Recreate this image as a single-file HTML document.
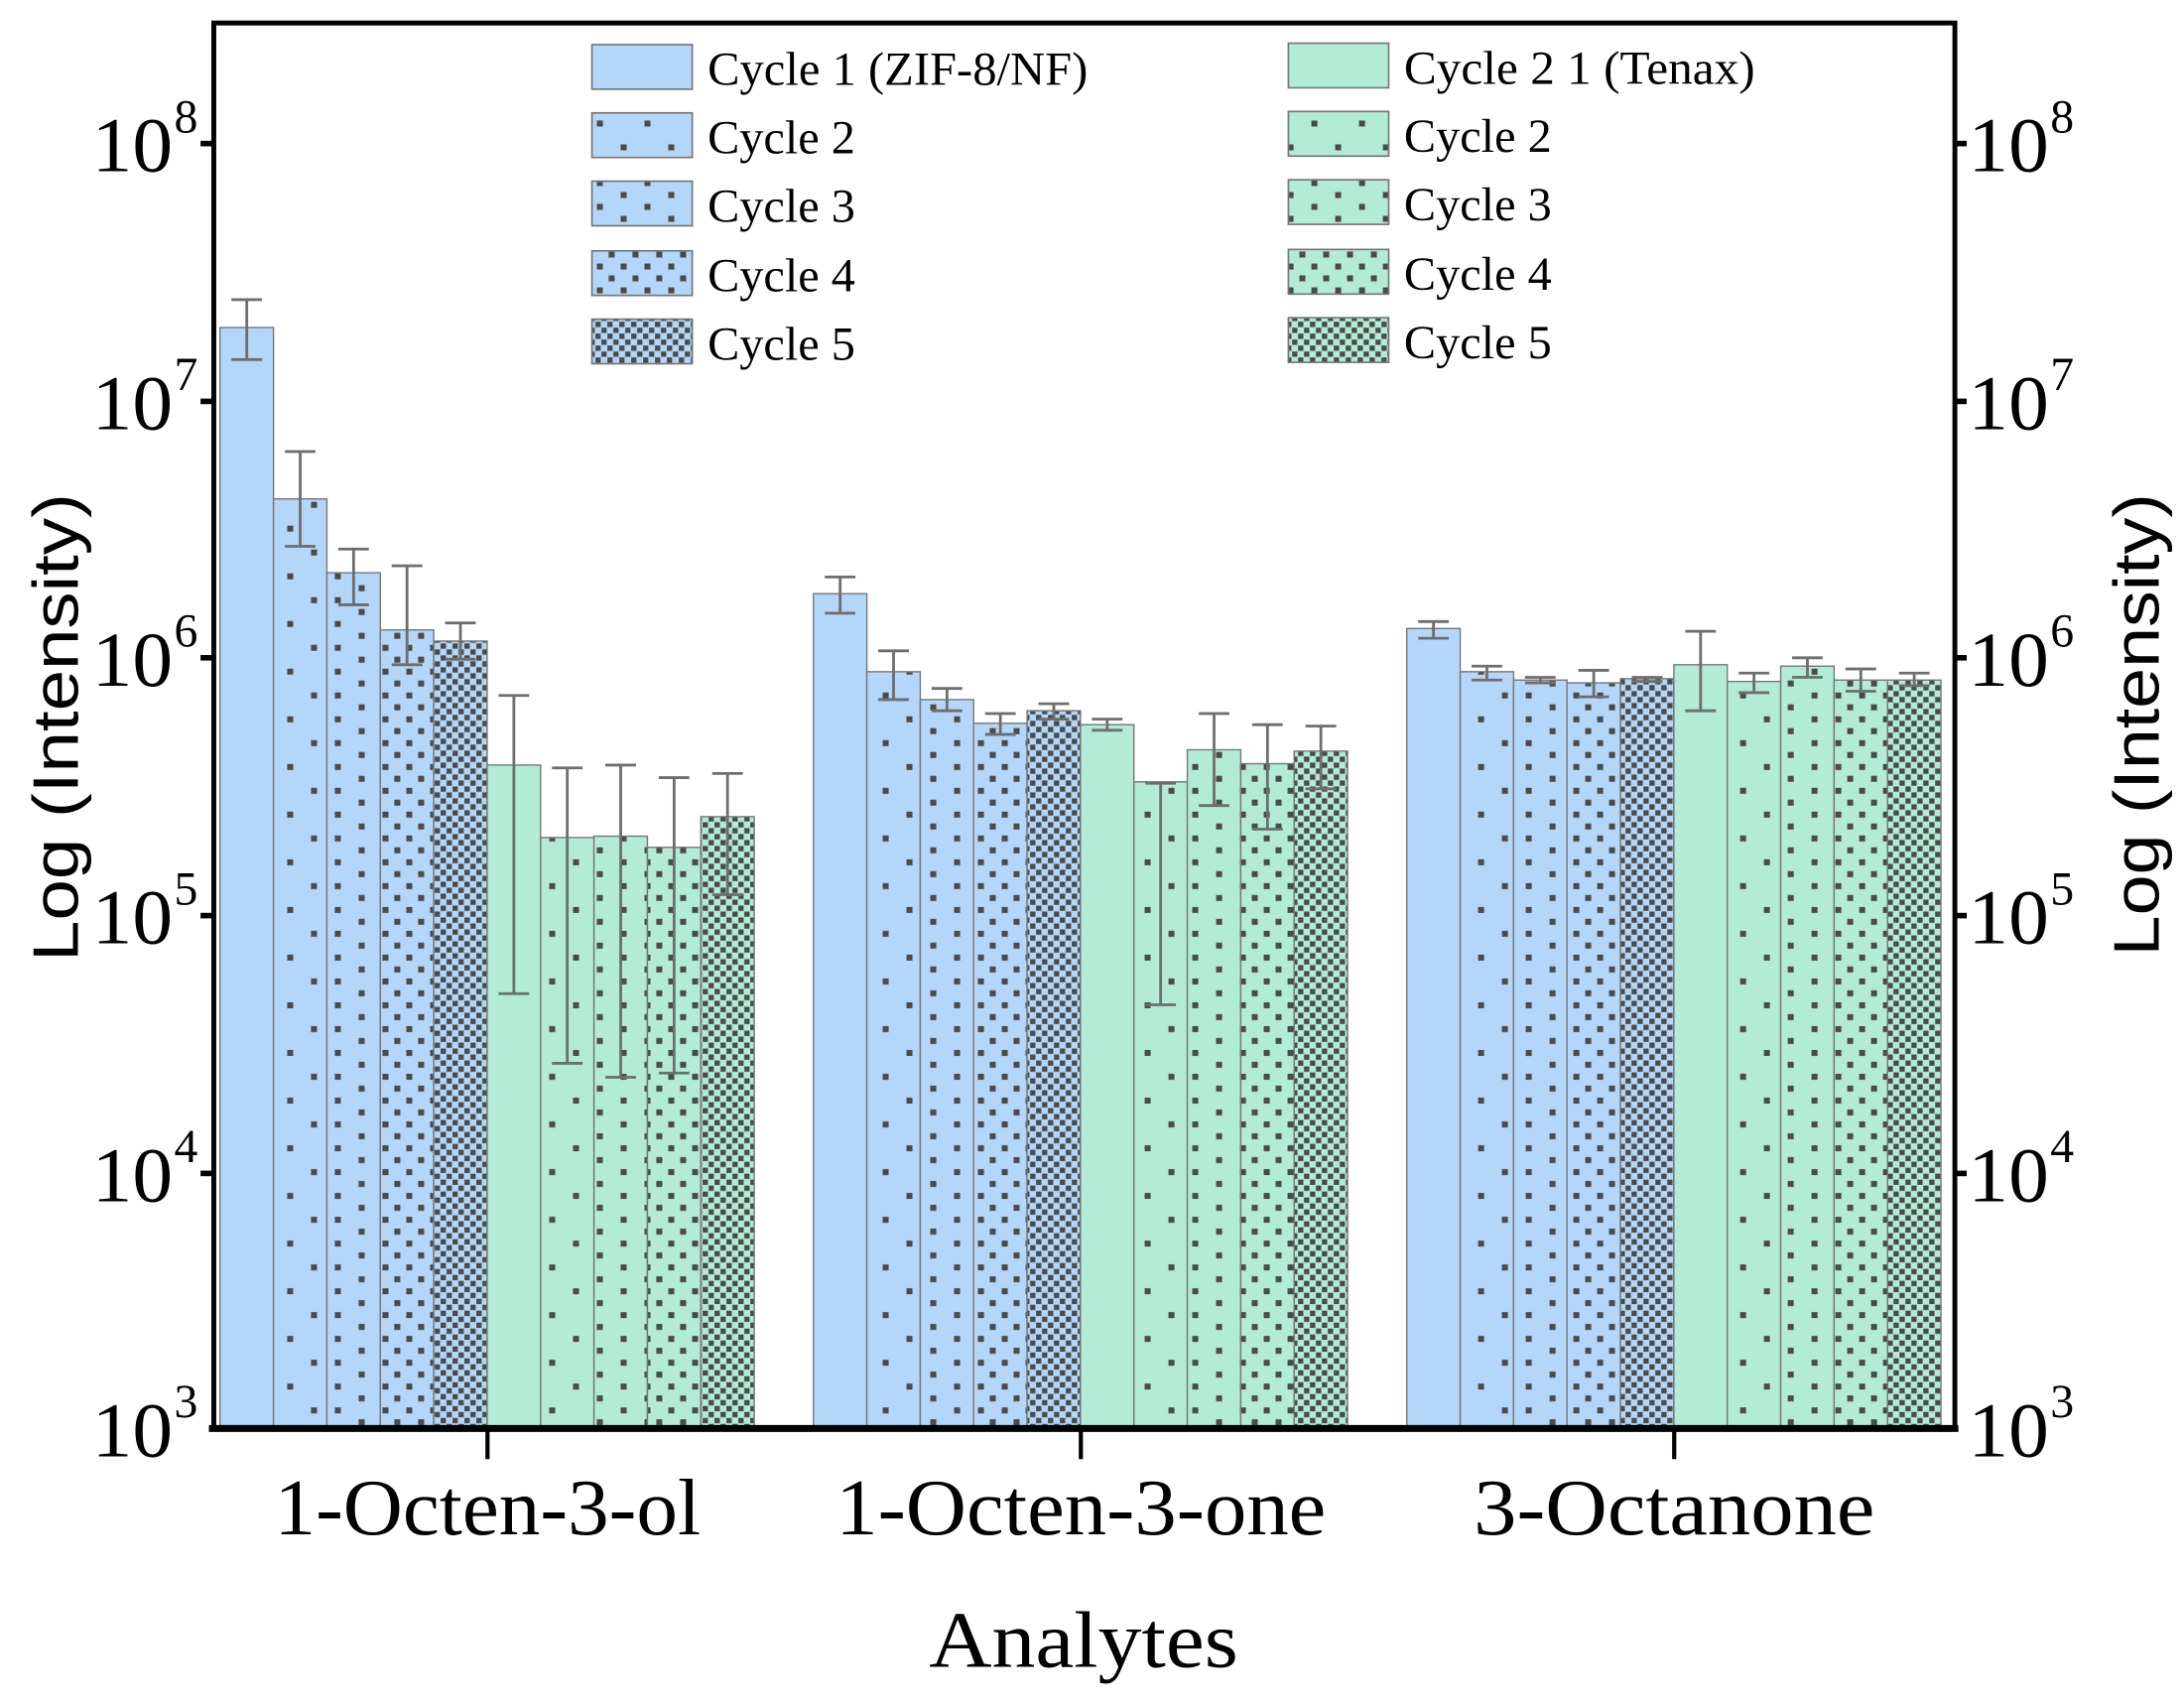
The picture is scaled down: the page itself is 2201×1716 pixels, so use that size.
<!DOCTYPE html>
<html><head><meta charset="utf-8"><style>html,body{margin:0;padding:0;background:#fff}svg{display:block}</style></head>
<body>
<svg width="2201" height="1716" viewBox="0 0 1568 1222" preserveAspectRatio="none" xmlns="http://www.w3.org/2000/svg">
<defs>
<pattern id="p2" patternUnits="userSpaceOnUse" width="34.2" height="34.2"><rect x="1" y="1" width="4.3" height="4.3" fill="#4a4a4a"/><rect x="18.1" y="18.1" width="4.3" height="4.3" fill="#4a4a4a"/></pattern>
<pattern id="p3" patternUnits="userSpaceOnUse" width="34.2" height="17.1"><rect x="1" y="1" width="4.3" height="4.3" fill="#4a4a4a"/><rect x="18.1" y="9.5" width="4.3" height="4.3" fill="#4a4a4a"/></pattern>
<pattern id="p4" patternUnits="userSpaceOnUse" width="17.1" height="17.1"><rect x="1" y="1" width="4.3" height="4.3" fill="#4a4a4a"/><rect x="9.5" y="9.5" width="4.3" height="4.3" fill="#4a4a4a"/></pattern>
<pattern id="p5" patternUnits="userSpaceOnUse" width="8.55" height="8.55"><rect x="0" y="0" width="3.8" height="3.8" fill="#4a4a4a"/><rect x="4.27" y="4.27" width="3.8" height="3.8" fill="#4a4a4a"/></pattern>
</defs>
<g id="bars" stroke-width="1"></g>
<g id="errs" stroke="#6e6e6e" stroke-width="2" fill="none"></g>
<g stroke="#000" fill="none">
<rect x="153.5" y="16.5" width="1250" height="1009" stroke-width="3.5"/>
<line x1="150" y1="1025" x2="1406" y2="1025" stroke-width="5"/>
<line x1="144" y1="103" x2="153" y2="103" stroke-width="4"/>
<line x1="144" y1="288" x2="153" y2="288" stroke-width="4"/>
<line x1="144" y1="472" x2="153" y2="472" stroke-width="4"/>
<line x1="144" y1="657" x2="153" y2="657" stroke-width="4"/>
<line x1="144" y1="842" x2="153" y2="842" stroke-width="4"/>
<line x1="1403" y1="103" x2="1412" y2="103" stroke-width="4"/>
<line x1="1403" y1="288" x2="1412" y2="288" stroke-width="4"/>
<line x1="1403" y1="472" x2="1412" y2="472" stroke-width="4"/>
<line x1="1403" y1="657" x2="1412" y2="657" stroke-width="4"/>
<line x1="1403" y1="842" x2="1412" y2="842" stroke-width="4"/>
<line x1="350" y1="1025" x2="350" y2="1047" stroke-width="3"/>
<line x1="776" y1="1025" x2="776" y2="1047" stroke-width="3"/>
<line x1="1202" y1="1025" x2="1202" y2="1047" stroke-width="3"/>
</g>
<g font-family="Liberation Serif, serif" fill="#000">
<g font-size="56">
<text x="66" y="123" textLength="58" lengthAdjust="spacingAndGlyphs">10</text>
<text x="66" y="308" textLength="58" lengthAdjust="spacingAndGlyphs">10</text>
<text x="66" y="492" textLength="58" lengthAdjust="spacingAndGlyphs">10</text>
<text x="66" y="677" textLength="58" lengthAdjust="spacingAndGlyphs">10</text>
<text x="66" y="862" textLength="58" lengthAdjust="spacingAndGlyphs">10</text>
<text x="66" y="1045" textLength="58" lengthAdjust="spacingAndGlyphs">10</text>
<text x="1413" y="123" textLength="58" lengthAdjust="spacingAndGlyphs">10</text>
<text x="1413" y="308" textLength="58" lengthAdjust="spacingAndGlyphs">10</text>
<text x="1413" y="492" textLength="58" lengthAdjust="spacingAndGlyphs">10</text>
<text x="1413" y="677" textLength="58" lengthAdjust="spacingAndGlyphs">10</text>
<text x="1413" y="862" textLength="58" lengthAdjust="spacingAndGlyphs">10</text>
<text x="1413" y="1045" textLength="58" lengthAdjust="spacingAndGlyphs">10</text>
</g>
<g font-size="34">
<text x="125" y="95" textLength="17" lengthAdjust="spacingAndGlyphs">8</text><text x="125" y="280" textLength="17" lengthAdjust="spacingAndGlyphs">7</text><text x="125" y="464" textLength="17" lengthAdjust="spacingAndGlyphs">6</text><text x="125" y="649" textLength="17" lengthAdjust="spacingAndGlyphs">5</text><text x="125" y="834" textLength="17" lengthAdjust="spacingAndGlyphs">4</text><text x="125" y="1017" textLength="17" lengthAdjust="spacingAndGlyphs">3</text>
<text x="1472" y="95" textLength="17" lengthAdjust="spacingAndGlyphs">8</text><text x="1472" y="280" textLength="17" lengthAdjust="spacingAndGlyphs">7</text><text x="1472" y="464" textLength="17" lengthAdjust="spacingAndGlyphs">6</text><text x="1472" y="649" textLength="17" lengthAdjust="spacingAndGlyphs">5</text><text x="1472" y="834" textLength="17" lengthAdjust="spacingAndGlyphs">4</text><text x="1472" y="1017" textLength="17" lengthAdjust="spacingAndGlyphs">3</text>
</g>
<g font-size="57">
<text x="197" y="1101" textLength="306" lengthAdjust="spacingAndGlyphs">1-Octen-3-ol</text>
<text x="600" y="1101" textLength="352" lengthAdjust="spacingAndGlyphs">1-Octen-3-one</text>
<text x="1058" y="1101" textLength="288" lengthAdjust="spacingAndGlyphs">3-Octanone</text>
<text x="667" y="1196" textLength="222" lengthAdjust="spacingAndGlyphs">Analytes</text>
</g>
<g font-size="34">
<text x="508" y="61" textLength="273" lengthAdjust="spacingAndGlyphs">Cycle 1 (ZIF-8/NF)</text>
<text x="508" y="110" textLength="106" lengthAdjust="spacingAndGlyphs">Cycle 2</text>
<text x="508" y="159" textLength="106" lengthAdjust="spacingAndGlyphs">Cycle 3</text>
<text x="508" y="209" textLength="106" lengthAdjust="spacingAndGlyphs">Cycle 4</text>
<text x="508" y="258" textLength="106" lengthAdjust="spacingAndGlyphs">Cycle 5</text>
<text x="1008" y="60" textLength="252" lengthAdjust="spacingAndGlyphs">Cycle 2 1 (Tenax)</text>
<text x="1008" y="109" textLength="106" lengthAdjust="spacingAndGlyphs">Cycle 2</text>
<text x="1008" y="158" textLength="106" lengthAdjust="spacingAndGlyphs">Cycle 3</text>
<text x="1008" y="208" textLength="106" lengthAdjust="spacingAndGlyphs">Cycle 4</text>
<text x="1008" y="257" textLength="106" lengthAdjust="spacingAndGlyphs">Cycle 5</text>
</g>
</g>
<g font-family="Liberation Sans, sans-serif" font-size="46" fill="#000">
<text transform="translate(56,690) rotate(-90)" textLength="336" lengthAdjust="spacingAndGlyphs">Log (Intensity)</text>
<text transform="translate(1550,686) rotate(-90)" textLength="332" lengthAdjust="spacingAndGlyphs">Log (Intensity)</text>
</g>
<g id="legend" stroke="#777" stroke-width="1.2"></g>
<script>
var NS="http://www.w3.org/2000/svg";
function el(p,t,a){var e=document.createElementNS(NS,t);for(var k in a)e.setAttribute(k,a[k]);p.appendChild(e);return e;}
var bars=document.getElementById('bars'),errs=document.getElementById('errs'),leg=document.getElementById('legend');
var blue="#b3d6f9",green="#b2ecd6",pats=[null,"p2","p3","p4","p5"];
var starts=[158,584,1010],w=38.35,bot=1025;
var tops=[[235,358,411,452,460,549,601,600,608,586],[426,482,502,519,510,520,561,538,548,539],[451,482,488,490,487,477,489,478,488,488]];
var er=[[[215,258],[324,392],[394,434],[406,477],[447,473],[499,713],[551,763],[549,773],[558,770],[555,642]],
[[414,440],[467,502],[494,510],[512,527],[505,516],[516,524],[562,721],[512,578],[520,595],[521,566]],
[[446,458],[478,488],[486,490],[481,500],[486,489],[453,510],[483,497],[472,486],[480,496],[483,492]]];
for(var g=0;g<3;g++)for(var i=0;i<10;i++){
 var x=starts[g]+i*w,t=tops[g][i],c=i<5?blue:green,p=pats[i%5];
 el(bars,'rect',{x:x,y:t,width:w,height:bot-t,fill:c});
 if(p)el(bars,'rect',{x:x,y:t,width:w,height:bot-t,fill:'url(#'+p+')'});
 el(bars,'rect',{x:x,y:t,width:w,height:bot-t,fill:'none',stroke:'#777'});
 var cx=x+w/2,e=er[g][i];
 el(errs,'line',{x1:cx,y1:e[0],x2:cx,y2:e[1]});
 el(errs,'line',{x1:cx-11,y1:e[0],x2:cx+11,y2:e[0]});
 el(errs,'line',{x1:cx-11,y1:e[1],x2:cx+11,y2:e[1]});
}
var ly=[32,81,130,180,229];
for(var i=0;i<5;i++){
 [[425,blue,0],[925,green,-1]].forEach(function(a){
  var y=ly[i]+a[2];
  el(leg,'rect',{x:a[0],y:y,width:72,height:32,fill:a[1],stroke:'none'});
  if(pats[i])el(leg,'rect',{x:a[0],y:y,width:72,height:32,fill:'url(#'+pats[i]+')',stroke:'none'});
  el(leg,'rect',{x:a[0],y:y,width:72,height:32,fill:'none'});
 });
}
</script>
</svg>
</body></html>
